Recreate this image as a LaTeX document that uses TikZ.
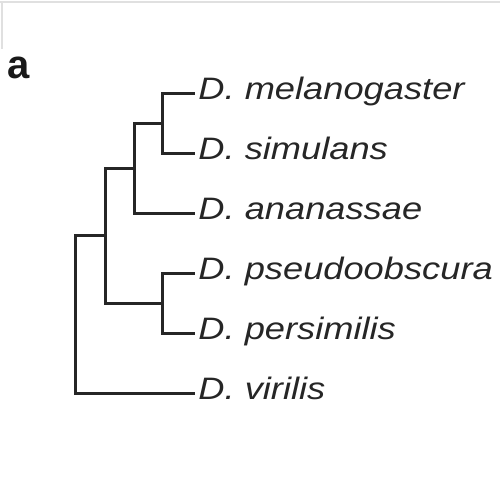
\documentclass[tikz,border=0pt]{standalone}
\usepackage{fontspec}
\setsansfont{Liberation Sans}
\usepackage{tikz}
\usetikzlibrary{positioning}

\begin{document}
\begin{tikzpicture}[x=0.5pt, y=-0.5pt, line cap=rect]
    \tikzstyle{branch} = [line width=1.5pt, draw=black!85]
    \tikzstyle{leaf} = [anchor=base west, inner sep=0pt, xscale=1.17, text=black!85, font=\sffamily\itshape\fontsize{15.5}{18}\selectfont]
    \tikzstyle{panel} = [anchor=base west, inner sep=0pt, text=black!90, font=\sffamily\bfseries\fontsize{20}{24}\selectfont]

    \useasboundingbox (0,0) rectangle (500,500);
    % faint frame of the scan
    \draw[black!12, line width=0.8pt] (0,2) -- (500,2);
    \draw[black!12, line width=0.8pt] (2,2) -- (2,48);

    \node (panela) [panel] at (7,78) {a};

    % tips of the branches
    \coordinate (tmel) at (194,93);
    \coordinate (tsim) at (194,153);
    \coordinate (tana) at (194,213);
    \coordinate (tpse) at (194,273);
    \coordinate (tper) at (194,333);
    \coordinate (tvir) at (194,393);

    % inner nodes
    \coordinate (ms) at (163,123);
    \coordinate (msa) at (135,168);
    \coordinate (pp) at (163,303);
    \coordinate (mel5) at (106,235.5);
    \coordinate (root) at (76,314);

    \node (mel) [leaf] at (198,99) {D. melanogaster};
    \node (sim) [leaf] at (198,159) {D. simulans};
    \node (ana) [leaf] at (198,219) {D. ananassae};
    \node (pse) [leaf] at (198,279) {D. pseudoobscura};
    \node (per) [leaf] at (198,339) {D. persimilis};
    \node (vir) [leaf] at (198,399) {D. virilis};

    \draw [branch] (tmel) -| (ms) |- (tsim);
    \draw [branch] (ms) -| (msa) |- (tana);
    \draw [branch] (tpse) -| (pp) |- (tper);
    \draw [branch] (msa) -| (mel5) |- (pp);
    \draw [branch] (mel5) -| (root) |- (tvir);
\end{tikzpicture}
\end{document}
